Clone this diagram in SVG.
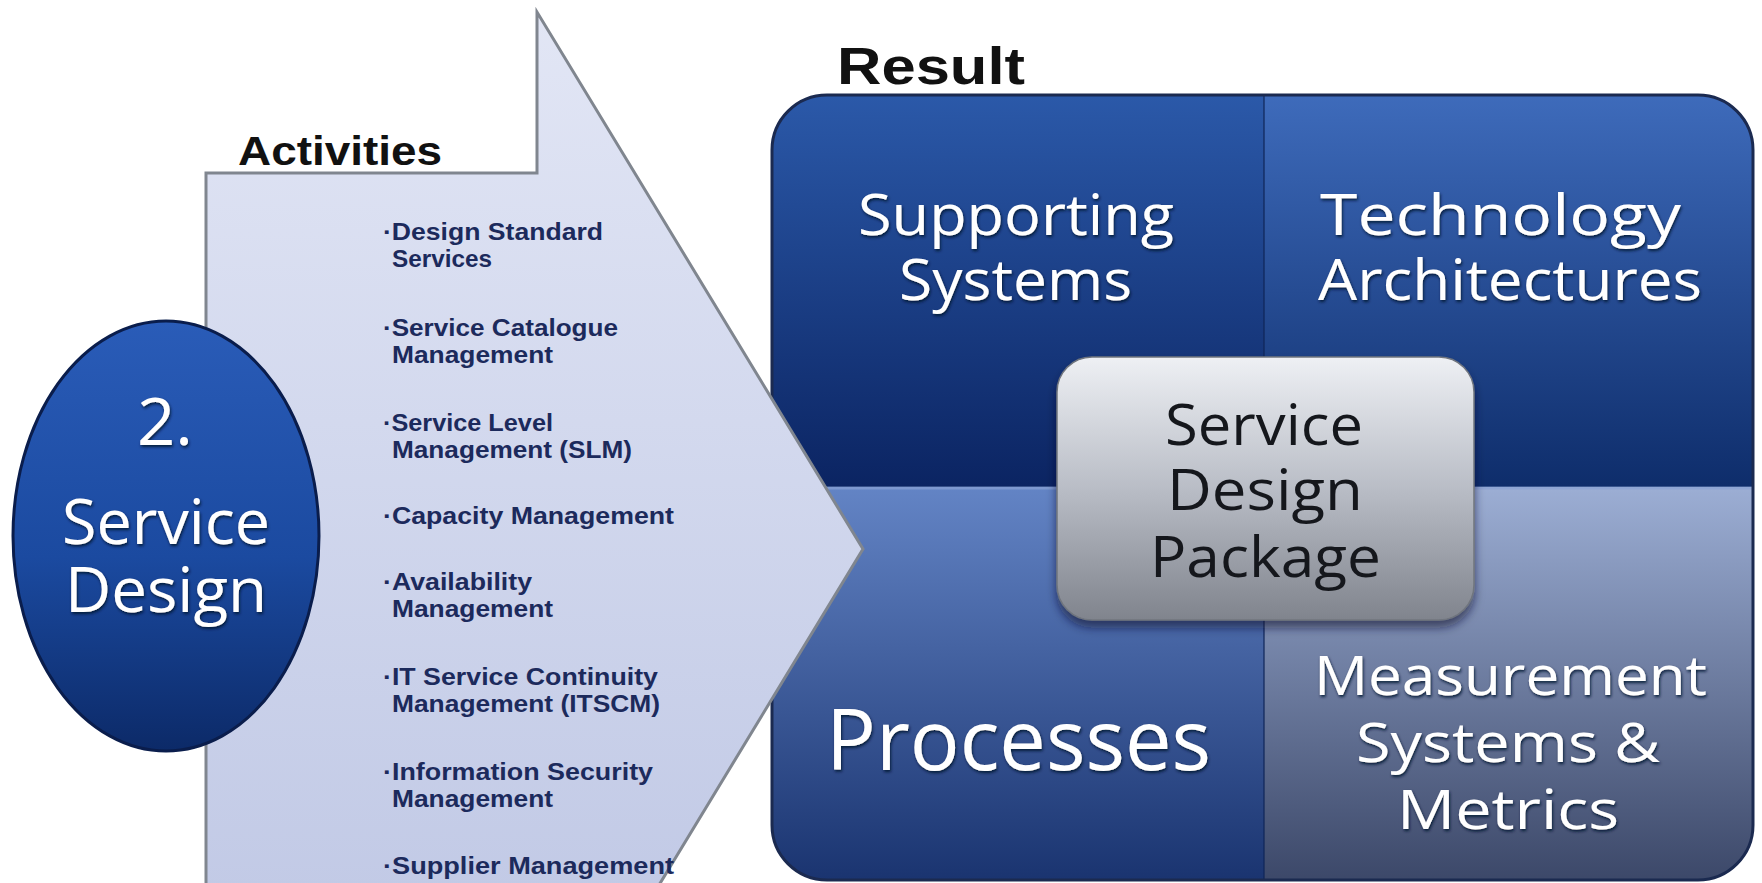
<svg xmlns="http://www.w3.org/2000/svg" width="1762" height="883" viewBox="0 0 1762 883">
<defs>
<style>
.title{font-family:"Liberation Sans",Arial,sans-serif;font-weight:bold;fill:#111;}
.item{font-family:"Liberation Sans",Arial,sans-serif;font-weight:bold;font-size:24px;fill:#1c2a5c;}
.wt{font-family:"Open Sans","Noto Sans",sans-serif;fill:#ffffff;filter:url(#tsh);}
.dk{font-family:"Open Sans","Noto Sans",sans-serif;fill:#15171c;}
</style>
<linearGradient id="arrowG" x1="0" y1="0" x2="0" y2="1">
<stop offset="0" stop-color="#e2e6f5"/><stop offset="1" stop-color="#c2cae6"/>
</linearGradient>
<linearGradient id="ellG" x1="0" y1="0" x2="0" y2="1">
<stop offset="0" stop-color="#2a5cb8"/><stop offset="0.55" stop-color="#1b4aa0"/><stop offset="1" stop-color="#0c2a68"/>
</linearGradient>
<linearGradient id="tlG" x1="0" y1="0" x2="0" y2="1">
<stop offset="0" stop-color="#2b59a9"/><stop offset="1" stop-color="#0b2462"/>
</linearGradient>
<linearGradient id="trG" x1="0" y1="0" x2="0" y2="1">
<stop offset="0" stop-color="#3e6bbb"/><stop offset="1" stop-color="#0e2d6b"/>
</linearGradient>
<linearGradient id="blG" x1="0" y1="0" x2="0" y2="1">
<stop offset="0" stop-color="#6384c5"/><stop offset="1" stop-color="#1a3470"/>
</linearGradient>
<linearGradient id="brG" x1="0" y1="0" x2="0" y2="1">
<stop offset="0" stop-color="#9caed4"/><stop offset="1" stop-color="#3c4869"/>
</linearGradient>
<linearGradient id="pkgG" x1="0" y1="0" x2="0" y2="1">
<stop offset="0" stop-color="#eef0f4"/><stop offset="0.5" stop-color="#b9bdc6"/><stop offset="1" stop-color="#80848d"/>
</linearGradient>
<clipPath id="boxClip"><rect x="772" y="95" width="981" height="785" rx="55" ry="55"/></clipPath>
<filter id="tsh" x="-10%" y="-20%" width="120%" height="150%">
<feDropShadow dx="1" dy="2" stdDeviation="1.5" flood-color="#061233" flood-opacity="0.9"/>
</filter>
<filter id="boxsh" x="-10%" y="-10%" width="120%" height="130%">
<feDropShadow dx="0" dy="7" stdDeviation="5" flood-color="#0a1530" flood-opacity="0.6"/>
</filter>
</defs>
<rect x="0" y="0" width="1762" height="883" fill="#ffffff"/>

<g id="connectors"></g>

<g id="result">
<text class="title" x="837" y="84" font-size="52" textLength="188" lengthAdjust="spacingAndGlyphs">Result</text>
<g clip-path="url(#boxClip)">
<rect id="q-tl" x="772" y="95" width="492" height="392" fill="url(#tlG)"/>
<rect id="q-tr" x="1264" y="95" width="489" height="392" fill="url(#trG)"/>
<rect id="q-bl" x="772" y="487" width="492" height="393" fill="url(#blG)"/>
<rect id="q-br" x="1264" y="487" width="489" height="393" fill="url(#brG)"/>
<line x1="1264" y1="95" x2="1264" y2="880" stroke="#0f2558" stroke-width="2" opacity="0.6"/>
<line x1="772" y1="488" x2="1753" y2="488" stroke="#8aa3d6" stroke-width="3" opacity="0.7"/>
</g>
<rect x="772" y="95" width="981" height="785" rx="55" ry="55" fill="none" stroke="#1b2a50" stroke-width="3"/>
</g>

<g id="activities-arrow">
<path d="M206,890 L206,173 L537,173 L537,12 L863,549 L656,890 Z" fill="url(#arrowG)" stroke="#80868f" stroke-width="3" stroke-linejoin="miter"/>
<text class="title" x="238" y="165" font-size="40" textLength="204" lengthAdjust="spacingAndGlyphs">Activities</text>
<g id="activity-list">
<text class="item" x="383" y="240" textLength="220" lengthAdjust="spacingAndGlyphs">·Design Standard</text>
<text class="item" x="392" y="267" textLength="100" lengthAdjust="spacingAndGlyphs">Services</text>
<text class="item" x="383" y="336" textLength="235" lengthAdjust="spacingAndGlyphs">·Service Catalogue</text>
<text class="item" x="392" y="363" textLength="161" lengthAdjust="spacingAndGlyphs">Management</text>
<text class="item" x="383" y="431" textLength="170" lengthAdjust="spacingAndGlyphs">·Service Level</text>
<text class="item" x="392" y="458" textLength="240" lengthAdjust="spacingAndGlyphs">Management (SLM)</text>
<text class="item" x="383" y="524" textLength="291" lengthAdjust="spacingAndGlyphs">·Capacity Management</text>
<text class="item" x="383" y="590" textLength="149" lengthAdjust="spacingAndGlyphs">·Availability</text>
<text class="item" x="392" y="617" textLength="161" lengthAdjust="spacingAndGlyphs">Management</text>
<text class="item" x="383" y="685" textLength="275" lengthAdjust="spacingAndGlyphs">·IT Service Continuity</text>
<text class="item" x="392" y="712" textLength="268" lengthAdjust="spacingAndGlyphs">Management (ITSCM)</text>
<text class="item" x="383" y="780" textLength="270" lengthAdjust="spacingAndGlyphs">·Information Security</text>
<text class="item" x="392" y="807" textLength="161" lengthAdjust="spacingAndGlyphs">Management</text>
<text class="item" x="383" y="874" textLength="291" lengthAdjust="spacingAndGlyphs">·Supplier Management</text>
</g>
</g>

<g id="service-design">
<ellipse cx="166" cy="536" rx="153" ry="215" fill="url(#ellG)" stroke="#0a1d4c" stroke-width="3"/>
<text class="wt" x="137" y="445" font-size="66" textLength="56" lengthAdjust="spacingAndGlyphs">2.</text>
<text class="wt" x="62" y="544" font-size="62" textLength="208" lengthAdjust="spacingAndGlyphs">Service</text>
<text class="wt" x="65" y="612" font-size="62" textLength="202" lengthAdjust="spacingAndGlyphs">Design</text>
</g>

<g id="supporting-systems">
<text class="wt" x="858" y="235" font-size="56" textLength="316" lengthAdjust="spacingAndGlyphs">Supporting</text>
<text class="wt" x="899" y="300" font-size="56" textLength="233" lengthAdjust="spacingAndGlyphs">Systems</text>
</g>
<g id="technology-architectures">
<text class="wt" x="1320" y="235" font-size="56" textLength="361" lengthAdjust="spacingAndGlyphs">Technology</text>
<text class="wt" x="1318" y="300" font-size="56" textLength="384" lengthAdjust="spacingAndGlyphs">Architectures</text>
</g>
<g id="processes">
<text class="wt" x="826" y="770" font-size="84" textLength="385" lengthAdjust="spacingAndGlyphs">Processes</text>
</g>
<g id="measurement">
<text class="wt" x="1314" y="695" font-size="54" textLength="393" lengthAdjust="spacingAndGlyphs">Measurement</text>
<text class="wt" x="1356" y="762" font-size="54" textLength="304" lengthAdjust="spacingAndGlyphs">Systems &amp;</text>
<text class="wt" x="1397" y="829" font-size="54" textLength="222" lengthAdjust="spacingAndGlyphs">Metrics</text>
</g>

<g id="service-design-package">
<rect x="1057" y="357" width="417" height="263" rx="35" ry="35" fill="url(#pkgG)" stroke="#70757e" stroke-width="1.5" filter="url(#boxsh)"/>
<text class="dk" x="1165" y="445" font-size="56" textLength="198" lengthAdjust="spacingAndGlyphs">Service</text>
<text class="dk" x="1167" y="510" font-size="56" textLength="196" lengthAdjust="spacingAndGlyphs">Design</text>
<text class="dk" x="1150" y="577" font-size="56" textLength="231" lengthAdjust="spacingAndGlyphs">Package</text>
</g>
</svg>
